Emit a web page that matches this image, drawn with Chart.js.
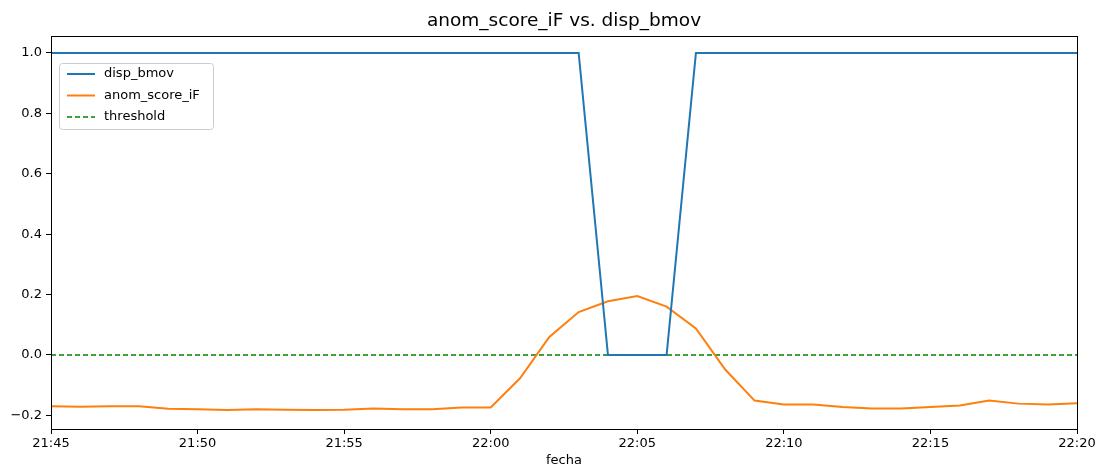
<!DOCTYPE html>
<html>
<head>
<meta charset="utf-8">
<script src="https://cdn.jsdelivr.net/npm/chart.js@4/dist/chart.umd.min.js"></script>
<style>
  html, body { margin: 0; padding: 0; background: #fff; }
  #wrap { width: 1099px; height: 468px; }
</style>
</head>
<body>
<div id="wrap"><canvas id="myChart" width="1099" height="468"></canvas></div>
<script>
// one sample per minute, 21:45 .. 22:20
var fecha = ["21:45","21:46","21:47","21:48","21:49","21:50","21:51","21:52","21:53","21:54",
             "21:55","21:56","21:57","21:58","21:59","22:00","22:01","22:02","22:03","22:04",
             "22:05","22:06","22:07","22:08","22:09","22:10","22:11","22:12","22:13","22:14",
             "22:15","22:16","22:17","22:18","22:19","22:20"];

var dispBmov = [1,1,1,1,1,1,1,1,1,1,
                1,1,1,1,1,1,1,1,1,0,
                0,0,1,1,1,1,1,1,1,1,
                1,1,1,1,1,1];

var anomScore = [-0.170,-0.171,-0.170,-0.170,-0.178,-0.180,-0.182,-0.180,-0.181,-0.182,
                 -0.181,-0.177,-0.180,-0.180,-0.174,-0.174,-0.077, 0.060, 0.142, 0.178,
                  0.195, 0.160, 0.088,-0.048,-0.151,-0.164,-0.164,-0.172,-0.177,-0.177,
                 -0.172,-0.167,-0.151,-0.161,-0.164,-0.160];

var threshold = 0;

var yTicks = [-0.2, 0, 0.2, 0.4, 0.6, 0.8, 1.0];

var titleText = "anom_score_iF vs. disp_bmov";
var fontFamily = "'DejaVu Sans', sans-serif";

// title centred on the plot, axes frame on all four sides, legend box inside the plot
var framePlugin = {
    id: 'frame',
    afterDraw: function(chart) {
        var ctx = chart.ctx;
        var a = chart.chartArea;
        ctx.save();

        ctx.fillStyle = '#000';
        ctx.font = '18.5px ' + fontFamily;
        ctx.textAlign = 'center';
        ctx.textBaseline = 'middle';
        ctx.fillText(titleText, (a.left + a.right) / 2, 21);

        ctx.strokeStyle = '#000';
        ctx.lineWidth = 1;
        ctx.setLineDash([]);
        ctx.strokeRect(Math.round(a.left) + 0.5, Math.round(a.top) + 0.5,
                       Math.round(a.right - a.left), Math.round(a.bottom - a.top));

        // legend
        var x0 = a.left + 8, y0 = a.top + 27;
        var w = 154, h = 66;
        ctx.fillStyle = 'rgba(255,255,255,0.8)';
        ctx.strokeStyle = '#cccccc';
        ctx.beginPath();
        if (ctx.roundRect) ctx.roundRect(x0 + 0.5, y0 + 0.5, w, h, 3); else ctx.rect(x0 + 0.5, y0 + 0.5, w, h);
        ctx.fill();
        ctx.stroke();

        ctx.font = '13px ' + fontFamily;
        ctx.textAlign = 'left';
        ctx.textBaseline = 'middle';
        chart.data.datasets.forEach(function(ds, i) {
            var yy = y0 + 11 + i * 21.5;
            ctx.strokeStyle = ds.borderColor;
            ctx.lineWidth = ds.borderWidth;
            ctx.setLineDash(ds.borderDash || []);
            ctx.beginPath();
            ctx.moveTo(x0 + 8, yy);
            ctx.lineTo(x0 + 36, yy);
            ctx.stroke();
            ctx.setLineDash([]);
            ctx.fillStyle = '#000';
            ctx.fillText(ds.label, x0 + 45, yy);
        });
        ctx.restore();
    }
};

var chartdata = {
    labels: fecha,
    datasets: [{
        label: "disp_bmov",
        data: dispBmov,
        borderColor: "#1f77b4",
        backgroundColor: "#1f77b4",
        borderWidth: 2,
        pointRadius: 0,
        lineTension: 0
    }, {
        label: "anom_score_iF",
        data: anomScore,
        borderColor: "#ff7f0e",
        backgroundColor: "#ff7f0e",
        borderWidth: 2,
        pointRadius: 0,
        lineTension: 0
    }, {
        label: "threshold",
        data: fecha.map(function() { return threshold; }),
        borderColor: "#008000",
        backgroundColor: "#008000",
        borderWidth: 1.3,
        borderDash: [5, 3],
        pointRadius: 0,
        lineTension: 0
    }]
};

var ctx = document.getElementById("myChart");

var LineGraph = new Chart(ctx, {
    type: 'line',
    data: chartdata,
    plugins: [framePlugin],
    options: {
        responsive: false,
        animation: false,
        layout: { padding: { left: 0, right: 22, top: 36, bottom: 0 } },
        plugins: {
            legend: { display: false },
            tooltip: { enabled: false },
            title: { display: false }
        },
        scales: {
            x: {
                type: 'category',
                offset: false,
                afterFit: function(scale) { scale.height = 39; },
                grid: {
                    drawOnChartArea: false,
                    drawTicks: true,
                    tickLength: 5,
                    color: '#000'
                },
                border: { display: false },
                ticks: {
                    autoSkip: false,
                    maxRotation: 0,
                    padding: 2,
                    color: '#000',
                    font: { family: fontFamily, size: 13 },
                    callback: function(value, index) {
                        return index % 5 === 0 ? fecha[index] : null;
                    }
                },
                title: {
                    display: true,
                    text: "fecha",
                    color: '#000',
                    font: { family: fontFamily, size: 13 },
                    padding: { top: 4, bottom: 0 }
                }
            },
            y: {
                min: -0.245,
                max: 1.056,
                afterFit: function(scale) { scale.width = 51; },
                afterBuildTicks: function(scale) {
                    scale.ticks = yTicks.map(function(v) { return { value: v }; });
                },
                grid: {
                    drawOnChartArea: false,
                    drawTicks: true,
                    tickLength: 5,
                    color: '#000'
                },
                border: { display: false },
                ticks: {
                    padding: 4,
                    color: '#000',
                    font: { family: fontFamily, size: 13 },
                    callback: function(value) {
                        return Number(value).toFixed(1).replace('-', '\u2212');
                    }
                }
            }
        }
    }
});
</script>
</body>
</html>
